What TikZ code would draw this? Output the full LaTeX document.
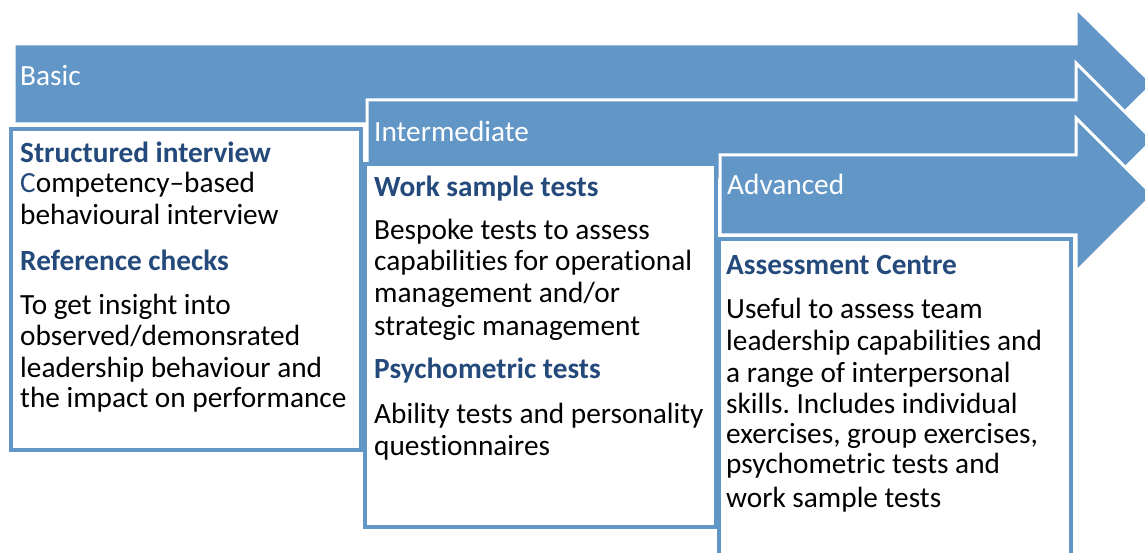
\documentclass[tikz,border=0pt]{standalone}
\usepackage{fontspec}
\setmainfont{Carlito}[Ligatures=NoCommon]
\usepackage{tikz}
\definecolor{arrowblue}{RGB}{98,150,199}
\definecolor{headblue}{RGB}{36,74,124}
\frenchspacing

\begin{document}
\begin{tikzpicture}[line cap=round,line join=round,x=1pt,y=-1pt,
  stage/.style={fill=arrowblue,draw=white,line width=3pt,line cap=butt,line join=miter},
  box/.style={fill=white,draw=arrowblue,line width=4pt,line cap=butt,line join=miter},
  txt/.style={anchor=base west,inner sep=0pt,font=\fontsize{29.3}{32}\selectfont},
  hd/.style={txt,font=\fontsize{29.3}{32}\selectfont\bfseries,text=headblue},
  lbl/.style={txt,text=white}]
\useasboundingbox (0,0) rectangle (1145,553);
\clip (0,0) rectangle (1145,553);
% Basic
\draw[stage] (14,44) -- (1076,44) -- (1076,8) -- (1153,84) -- (1076,160) -- (1076,124) -- (14,124) -- cycle;
\draw[box] (11,129) rectangle (361,450);
\node[lbl] (basic) at (20,86) {Basic};
\node[hd] (h11) at (20,163) {Structured interview};
\node[txt] (t11) at (20,193) {\textcolor{headblue}{C}ompetency–based};
\node[txt] (t12) at (20,225) {behavioural interview};
\node[hd] (h12) at (20,270) {Reference checks};
\node[txt] (t13) at (20,314) {To get insight into};
\node[txt] (t14) at (20,345) {observed/demonsrated};
\node[txt] (t15) at (20,377) {leadership behaviour and};
\node[txt] (t16) at (20,407) {the impact on performance};
% Intermediate
\draw[stage] (367,100) -- (1076,100) -- (1076,63) -- (1153,140) -- (1076,217) -- (1076,180) -- (367,180) -- cycle;
\draw[box] (365,164) rectangle (716,527);
\node[lbl] (inter) at (374,142) {Intermediate};
\node[hd] (h21) at (374,197) {Work sample tests};
\node[txt] (t21) at (374,240) {Bespoke tests to assess};
\node[txt] (t22) at (374,270) {capabilities for operational};
\node[txt] (t23) at (374,302) {management and/or};
\node[txt] (t24) at (374,335) {strategic management};
\node[hd] (h22) at (374,378) {Psychometric tests};
\node[txt] (t25) at (374,423) {Ability tests and personality};
\node[txt] (t26) at (374,455) {questionnaires};
% Advanced
\draw[stage] (720,155) -- (1076,155) -- (1076,118) -- (1153,195) -- (1076,272) -- (1076,235) -- (720,235) -- cycle;
\draw[box] (719,239) rectangle (1071,580);
\node[lbl] (adv) at (727,195) {Advanced};
\node[hd] (h31) at (726,275) {Assessment Centre};
\node[txt] (t31) at (726,318) {Useful to assess team};
\node[txt] (t32) at (726,350) {leadership capabilities and};
\node[txt] (t33) at (726,382) {a range of interpersonal};
\node[txt] (t34) at (726,413) {skills. Includes individual};
\node[txt] (t35) at (726,443) {exercises, group exercises,};
\node[txt] (t36) at (726,473) {psychometric tests and};
\node[txt] (t37) at (726,507) {work sample tests};
\end{tikzpicture}
\end{document}
